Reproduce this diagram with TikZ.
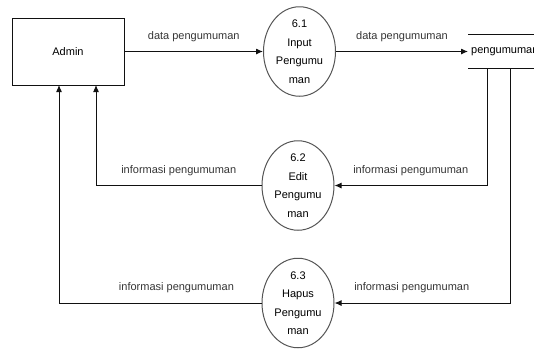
\documentclass[tikz,border=0pt]{standalone}
\usepackage{fontspec}
\setmainfont{Liberation Sans}
\usetikzlibrary{arrows.meta,shapes.geometric}
\definecolor{ink}{HTML}{111111}
\definecolor{rim}{HTML}{555555}

\begin{document}
\begin{tikzpicture}[
    x=1pt,y=-1pt,
    font=\fontsize{11}{13}\selectfont,
    entity/.style={draw=ink,line width=1pt,minimum width=112pt,minimum height=67pt,inner sep=0pt},
    proc/.style={ellipse,draw=rim,line width=1pt,align=center,minimum width=72pt,minimum height=88pt,inner sep=0pt,font=\fontsize{11}{18.5}\selectfont},
    store/.style={anchor=west,minimum height=33pt,inner xsep=3pt,inner ysep=0pt},
    arrow/.style={-{Latex[length=7pt,width=6pt]},line width=1pt,color=ink},
    flow/.style={above=6pt,text=ink!85}
  ]
    \useasboundingbox (0,0) rectangle (534,349);
    \node[entity] (admin) at (68,51.5) {Admin};
    \node[proc] (input) at (299.5,51.5) {6.1\\Input\\Pengumu\\man};
    \node[proc] (edit) at (298,185.5) {6.2\\Edit\\Pengumu\\man};
    \node[proc] (hapus) at (298,303) {6.3\\Hapus\\Pengumu\\man};
    \node[store] (db) at (468,51.5) {pengumuman};
    \draw[ink,line width=1pt] (db.north west) -- (db.north east)
      (db.south west) -- (db.south east);
    \coordinate (dbEdit) at (487,68);
    \coordinate (dbHapus) at (510,68);
    \coordinate (adEdit) at (96,85);
    \coordinate (adHapus) at (59,85);
    \draw[arrow] (admin) -- node[flow] {data pengumuman} (input);
    \draw[arrow] (input) -- node[flow] {data pengumuman} (db);
    \draw[arrow] (dbEdit) |- node[flow,pos=0.75] {informasi pengumuman} (edit);
    \draw[arrow] (edit) -| node[flow,pos=0.25] {informasi pengumuman} (adEdit);
    \draw[arrow] (dbHapus) |- node[flow,pos=0.78] {informasi pengumuman} (hapus);
    \draw[arrow] (hapus) -| node[flow,pos=0.21] {informasi pengumuman} (adHapus);
  \end{tikzpicture}
\end{document}
